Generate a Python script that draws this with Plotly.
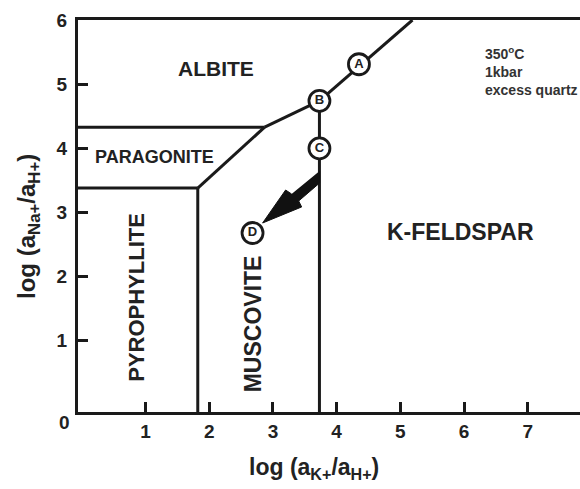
import plotly.graph_objects as go

# ---- data (in log-activity units) ----
x_range = [-0.06, 7.82]
y_range = [-0.11, 6.0]
x_ticks = [1, 2, 3, 4, 5, 6, 7]
y_ticks = [1, 2, 3, 4, 5, 6]

# phase boundaries (each list = one boundary line)
bnd_albite_paragonite_x = [-0.06, 2.87]
bnd_albite_paragonite_y = [4.33, 4.33]
bnd_paragonite_pyrophyllite_x = [-0.06, 1.82]
bnd_paragonite_pyrophyllite_y = [3.38, 3.38]
bnd_pyrophyllite_muscovite_x = [1.82, 1.82]
bnd_pyrophyllite_muscovite_y = [3.38, -0.11]
bnd_paragonite_muscovite_x = [1.82, 2.87]
bnd_paragonite_muscovite_y = [3.38, 4.33]
bnd_albite_muscovite_x = [2.87, 3.73]
bnd_albite_muscovite_y = [4.33, 4.74]
bnd_albite_kfeldspar_x = [3.73, 5.19]
bnd_albite_kfeldspar_y = [4.74, 6.0]
bnd_muscovite_kfeldspar_x = [3.73, 3.73]
bnd_muscovite_kfeldspar_y = [4.74, -0.11]

# labelled points
point_names = ["A", "B", "C", "D"]
point_x = [4.35, 3.73, 3.73, 2.68]
point_y = [5.31, 4.74, 4.00, 2.68]

# arrow outline (C -> D path)
arrow_x = [3.733, 3.733, 3.404, 3.451, 2.838, 3.199, 3.293]
arrow_y = [3.647, 3.460, 3.179, 3.086, 2.836, 3.350, 3.288]

# field labels
field_names = ["ALBITE", "PARAGONITE", "PYROPHYLLITE", "MUSCOVITE", "K-FELDSPAR"]
field_x = [2.10, 1.14, 0.86, 2.70, 5.95]
field_y = [5.24, 3.86, 1.68, 1.27, 2.70]
field_angle = [0, 0, -90, -90, 0]
field_size = [21, 18, 22, 23, 23]

conditions = "350<sup>o</sup>C<br>1kbar<br>excess quartz"

FONT = "Liberation Sans"

fig = go.Figure()

boundaries = [
    (bnd_albite_paragonite_x, bnd_albite_paragonite_y),
    (bnd_paragonite_pyrophyllite_x, bnd_paragonite_pyrophyllite_y),
    (bnd_pyrophyllite_muscovite_x, bnd_pyrophyllite_muscovite_y),
    (bnd_paragonite_muscovite_x, bnd_paragonite_muscovite_y),
    (bnd_albite_muscovite_x, bnd_albite_muscovite_y),
    (bnd_albite_kfeldspar_x, bnd_albite_kfeldspar_y),
    (bnd_muscovite_kfeldspar_x, bnd_muscovite_kfeldspar_y),
]
for bx, by in boundaries:
    fig.add_trace(go.Scatter(x=bx, y=by, mode="lines",
                             line=dict(color="#1a1a1a", width=3),
                             hoverinfo="skip", showlegend=False, cliponaxis=False))

# arrow
fig.add_trace(go.Scatter(x=arrow_x, y=arrow_y, mode="lines", fill="toself",
                         fillcolor="#111111", line=dict(color="#111111", width=1),
                         hoverinfo="skip", showlegend=False))

# circled points
fig.add_trace(go.Scatter(x=point_x, y=point_y, mode="markers+text",
                         text=point_names, textposition="middle center",
                         textfont=dict(family=FONT, size=13, color="#222", weight="bold"),
                         marker=dict(symbol="circle", size=21, color="white",
                                     line=dict(color="#1a1a1a", width=2.8)),
                         hoverinfo="skip", showlegend=False, cliponaxis=False))

for name, fx, fy, ang, sz in zip(field_names, field_x, field_y, field_angle, field_size):
    fig.add_annotation(x=fx, y=fy, text=name, showarrow=False, textangle=ang,
                       font=dict(family=FONT, size=sz, color="#222", weight="bold"))

fig.add_annotation(x=6.3, y=5.66, xanchor="left", yanchor="top", align="left",
                   text=conditions, showarrow=False,
                   font=dict(family=FONT, size=14, color="#333", weight="bold"))

# zero label at the corner
fig.add_annotation(x=x_range[0], y=y_range[0], xanchor="right", yanchor="top",
                   xshift=-6, yshift=2, text="0", showarrow=False,
                   font=dict(family=FONT, size=19, color="#222", weight="bold"))

# axis titles
fig.add_annotation(xref="paper", yref="paper", x=0.47, y=-0.145,
                   xanchor="center", yanchor="middle",
                   text="log (a<sub>K+</sub>/a<sub>H+</sub>)", showarrow=False,
                   font=dict(family=FONT, size=23, color="#222", weight="bold"))
fig.add_annotation(xref="paper", yref="paper", x=-0.10, y=0.474, textangle=-90,
                   xanchor="center", yanchor="middle",
                   text="log (a<sub>Na+</sub>/a<sub>H+</sub>)", showarrow=False,
                   font=dict(family=FONT, size=24, color="#222", weight="bold"))

axis_common = dict(showgrid=False, zeroline=False, showline=True, linewidth=3,
                   linecolor="#1a1a1a", ticks="inside", ticklen=10, tickwidth=3,
                   tickcolor="#1a1a1a",
                   tickfont=dict(family=FONT, size=19, color="#222", weight="bold"))

fig.update_layout(
    width=580, height=489,
    margin=dict(l=78, r=0, t=20, b=77),
    paper_bgcolor="white", plot_bgcolor="white",
    xaxis=dict(range=x_range, tickvals=x_ticks, mirror=True, **axis_common),
    yaxis=dict(range=y_range, tickvals=y_ticks, ticklabelstandoff=4, **axis_common),
    showlegend=False,
)

fig.write_html("out.html", config={"displayModeBar": False},
               post_script="document.body.style.margin='0';document.body.style.padding='0';")
